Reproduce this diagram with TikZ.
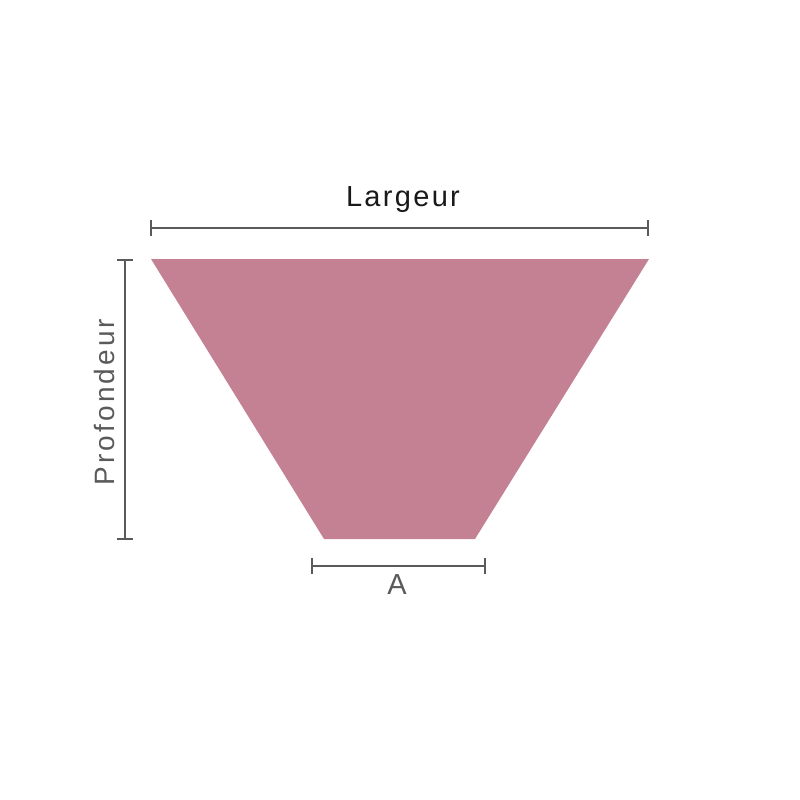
\documentclass[tikz,border=0pt]{standalone}
\usepackage{fontspec}
\setmainfont{Liberation Sans}
\newfontfamily\spacedfont[LetterSpace=8]{Liberation Sans}
\newfontfamily\widefont[LetterSpace=11]{Liberation Sans}
\usepackage{xcolor}
\definecolor{rose}{HTML}{C48194}
\definecolor{cote}{HTML}{5A5A5A}
\begin{document}
\begin{tikzpicture}[x=1pt,y=-1pt,
	dim/.style={draw=cote, line width=2pt},
	tick/.style={draw=cote, line width=2pt}]
		\useasboundingbox (0,0) rectangle (800,800) ;
\par
% trapeze
		\coordinate (TL) at (151,259) ;
		\coordinate (TR) at (649,259) ;
		\coordinate (BR) at (475,539) ;
		\coordinate (BL) at (324,539) ;
		\fill[rose] (TL) -- (TR) -- (BR) -- (BL) -- cycle ;
\par
% largeur
		\coordinate (L1) at (151,228) ;
		\coordinate (L2) at (648,228) ;
		\draw[dim] (L1) -- (L2) ;
		\draw[tick] ([yshift=-8]L1) -- ([yshift=8]L1) ;
		\draw[tick] ([yshift=-8]L2) -- ([yshift=8]L2) ;
		\node[text=black!90, font=\spacedfont\fontsize{29}{32}\selectfont] (largeur) at (403,200) {Largeur} ;
\par
% profondeur
		\coordinate (P1) at (125,260) ;
		\coordinate (P2) at (125,539) ;
		\draw[dim] (P1) -- (P2) ;
		\draw[tick] ([xshift=-8]P1) -- ([xshift=8]P1) ;
		\draw[tick] ([xshift=-8]P2) -- ([xshift=8]P2) ;
		\node[text=cote, rotate=90, font=\widefont\fontsize{28}{32}\selectfont] (profondeur) at (104,402) {Profondeur} ;
\par
% A
		\coordinate (A1) at (312,566) ;
		\coordinate (A2) at (485,566) ;
		\draw[dim] (A1) -- (A2) ;
		\draw[tick] ([yshift=-8]A1) -- ([yshift=8]A1) ;
		\draw[tick] ([yshift=-8]A2) -- ([yshift=8]A2) ;
		\node[text=cote, font=\fontsize{29}{32}\selectfont] (a) at (397,585) {A} ;
	\end{tikzpicture}
\end{document}
